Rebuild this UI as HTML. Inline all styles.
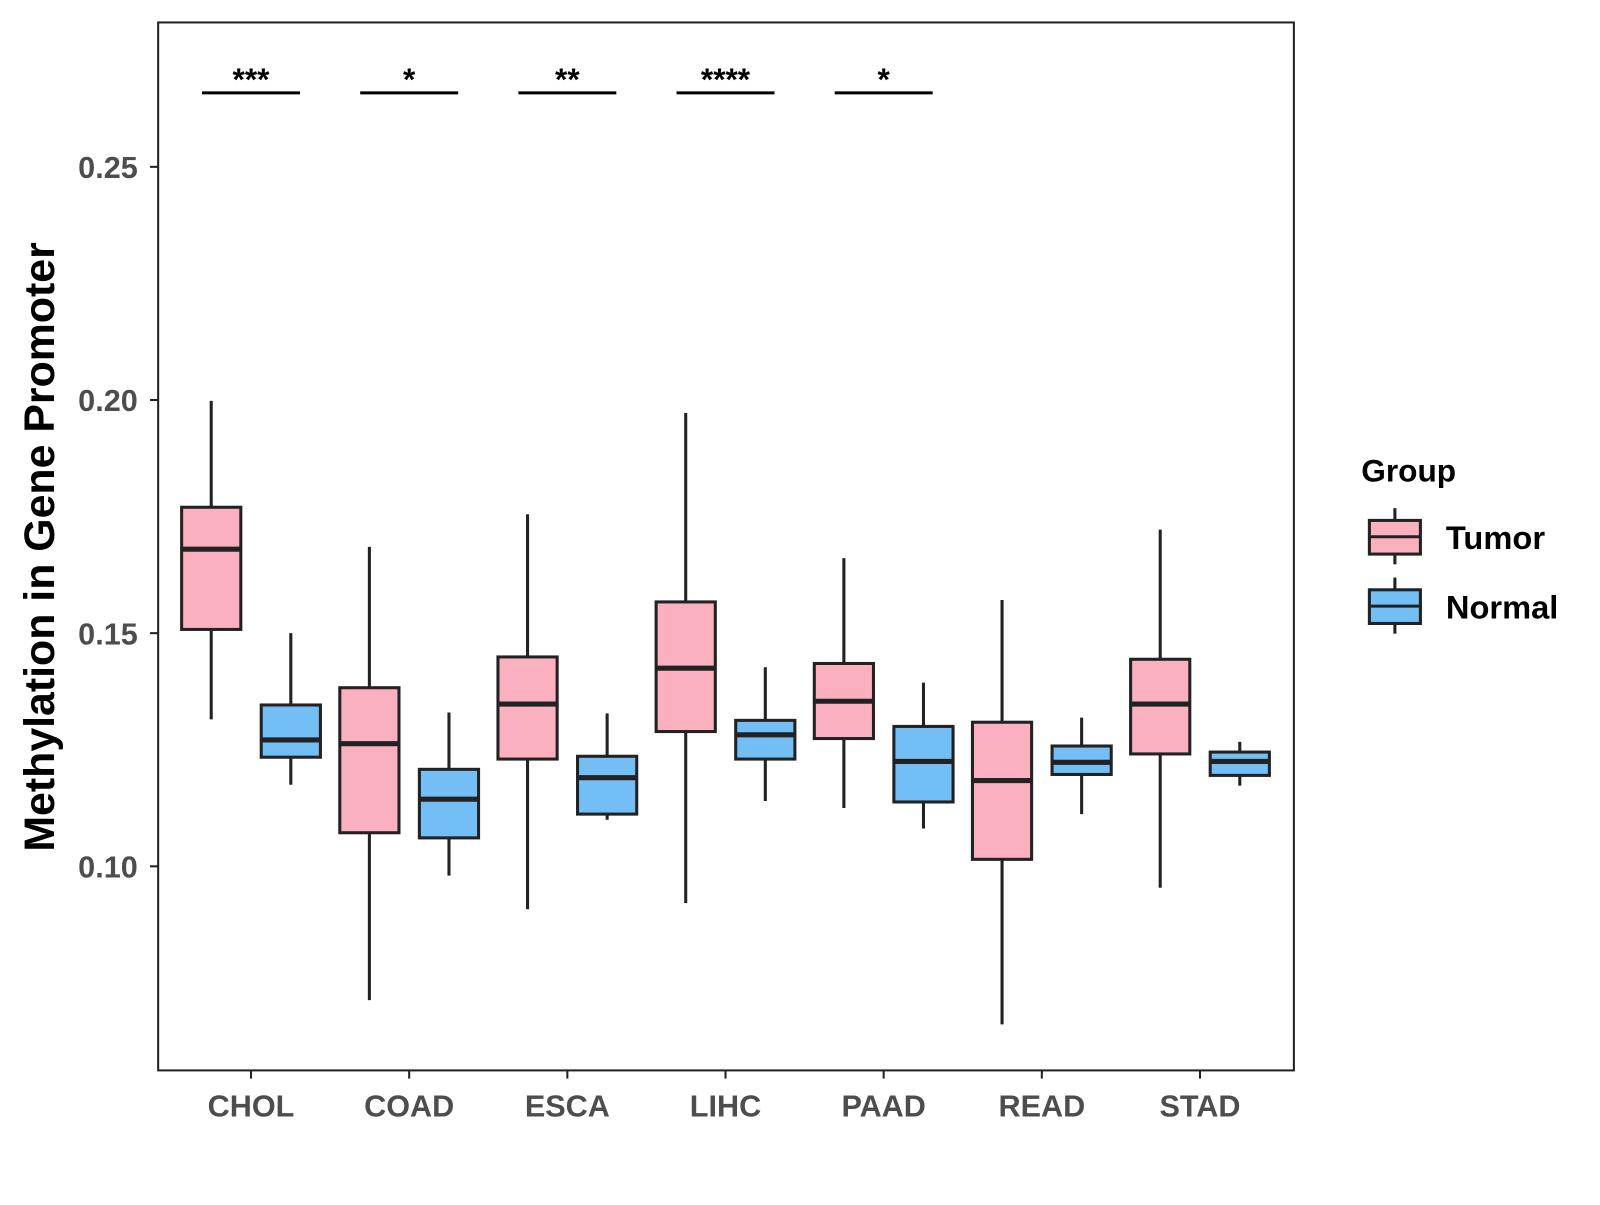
<!DOCTYPE html>
<html><head><meta charset="utf-8"><style>
body{margin:0;background:#fff}
svg text{font-family:"Liberation Sans",Arial,sans-serif;font-weight:bold}
</style></head><body>
<svg id="chart" width="1600" height="1200" viewBox="0 0 1568 1176" xmlns="http://www.w3.org/2000/svg">
<rect x="0" y="0" width="1568" height="1176" fill="#fff"/>
<g id="marks"></g>
<rect x="155" y="22" width="1113" height="1027" fill="none" stroke="#222" stroke-width="2"/>
<text transform="translate(53,536) rotate(-90)" text-anchor="middle" font-size="42" fill="#000">Methylation in Gene Promoter</text>
<g>
<text x="1334" y="472" font-size="31" fill="#000">Group</text>
<g>
<line x1="1367" y1="498" x2="1367" y2="553" stroke="#222" stroke-width="3"/>
<rect x="1342" y="510" width="50" height="33" fill="#FBB0C0" stroke="#222" stroke-width="3"/>
<line x1="1342" y1="526" x2="1392" y2="526" stroke="#222" stroke-width="3"/>
<text x="1417" y="538" font-size="32" fill="#000">Tumor</text></g>
<g>
<line x1="1367" y1="566" x2="1367" y2="621" stroke="#222" stroke-width="3"/>
<rect x="1342" y="578" width="50" height="33" fill="#73BEF5" stroke="#222" stroke-width="3"/>
<line x1="1342" y1="594" x2="1392" y2="594" stroke="#222" stroke-width="3"/>
<text x="1417" y="606" font-size="32" fill="#000">Normal</text></g>
</g>
</svg>
<script>
const categories=["CHOL","COAD","ESCA","LIHC","PAAD","READ","STAD"];
const tumorStats=[
[0.1315,0.1508,0.168,0.177,0.1998],
[0.0713,0.1072,0.1263,0.1383,0.1685],
[0.0908,0.123,0.1348,0.1449,0.1755],
[0.0921,0.1289,0.1425,0.1567,0.1972],
[0.1125,0.1274,0.1354,0.1435,0.1661],
[0.0661,0.1015,0.1184,0.1309,0.1571],
[0.0954,0.1241,0.1348,0.1444,0.1722]];
const normalStats=[
[0.1175,0.1234,0.1271,0.1346,0.150],
[0.098,0.1061,0.1144,0.1208,0.133],
[0.110,0.1112,0.119,0.1236,0.1328],
[0.114,0.123,0.1282,0.1313,0.1427],
[0.1081,0.1138,0.1225,0.130,0.1394],
[0.1112,0.1197,0.1223,0.1258,0.1319],
[0.1173,0.1195,0.1225,0.1245,0.1267]];
const yTicks=[0.10,0.15,0.20,0.25];
const yTickLabels=["0.10","0.15","0.20","0.25"];
const sigLabels=["***","*","**","****","*",null,null];
const NS="http://www.w3.org/2000/svg";
const g=document.getElementById('marks');
function yS(v){return 849-(v-0.10)*4570;}
function xS(i){return 246+i*155;}
function mk(t,a,p){const e=document.createElementNS(NS,t);for(const k in a)e.setAttribute(k,a[k]);(p||g).appendChild(e);return e;}
yTicks.forEach((v,i)=>{
 const l=mk('line',{x1:147,x2:155,y1:yS(v),y2:yS(v),stroke:'#222','stroke-width':2});
 
 
 const t=mk('text',{x:135,y:yS(v)+11,'text-anchor':'end','font-size':30,fill:'#4d4d4d'});
 t.textContent=yTickLabels[i];
 
 
});
categories.forEach((c,i)=>{
 const x=xS(i);
 const l=mk('line',{x1:x,x2:x,y1:1049,y2:1057,stroke:'#222','stroke-width':2});
 
 
 const t=mk('text',{x:x,y:1094,'text-anchor':'middle','font-size':30,fill:'#4d4d4d'});
 t.textContent=c;
 
 
 [[tumorStats[i],-39,'#FBB0C0','tumor'],[normalStats[i],39,'#73BEF5','normal']].forEach(([s,dx,col,nm])=>{
  const cx=x+dx;
  const bg=mk('g',{});
  
  
  mk('line',{x1:cx,x2:cx,y1:yS(s[4]),y2:yS(s[0]),stroke:'#222','stroke-width':3},bg);
  mk('rect',{x:cx-29,y:yS(s[3]),width:58,height:yS(s[1])-yS(s[3]),fill:col,stroke:'#222','stroke-width':3},bg);
  mk('line',{x1:cx-29,x2:cx+29,y1:yS(s[2]),y2:yS(s[2]),stroke:'#222','stroke-width':5},bg);
 });
 if(sigLabels[i]){
  const sl=mk('line',{x1:x-48,x2:x+48,y1:91,y2:91,stroke:'#000','stroke-width':3});
  
  
  const st=mk('text',{x:x,y:88,'text-anchor':'middle','font-size':31,fill:'#000'});
  st.textContent=sigLabels[i];
  
  
 }
});
</script>
</body></html>
